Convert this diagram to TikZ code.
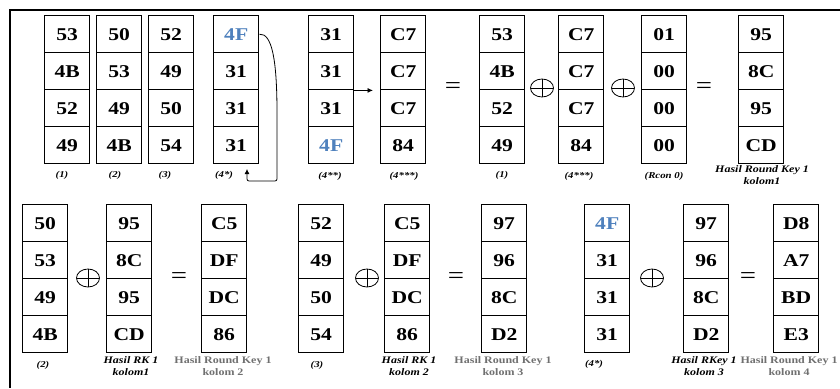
\documentclass[tikz,border=0pt]{standalone}
\usepackage{fontspec}
\setmainfont{Liberation Serif}[FakeStretch=1.2]
\usetikzlibrary{arrows.meta,shapes.geometric}
\definecolor{blueF}{HTML}{4F81BD}
\definecolor{graylbl}{HTML}{707070}
\tikzset{
 cell/.style={draw, line width=1.4pt, minimum width=45pt, minimum height=37pt, inner sep=0pt, anchor=north west, font=\fontsize{18}{20}\selectfont\bfseries},
 lbl/.style={font=\fontsize{9}{10}\selectfont\bfseries\itshape, inner sep=0pt},
 captxt/.style={font=\fontsize{10}{11.5}\selectfont\bfseries\itshape, align=center, inner sep=0pt},
 gcaptxt/.style={font=\fontsize{10}{11.5}\selectfont\bfseries, text=graylbl, align=center, inner sep=0pt},
 xorsym/.style={draw, ellipse, minimum width=23pt, minimum height=18pt, inner sep=0pt, line width=0.8pt,
   path picture={\draw[line width=0.8pt] (path picture bounding box.north) -- (path picture bounding box.south) (path picture bounding box.west) -- (path picture bounding box.east);}},
 eqsym/.style={font=\fontsize{24}{24}\selectfont, inner sep=0pt},
 frameline/.style={line width=1.2pt},
 conn/.style={line width=0.8pt},
}
\newcommand\kolom[4]{%
  \foreach \v [count=\i] in {#4} {
    \node[cell] (#1-\i) at (#2, {#3+37*(\i-1)}) {\v};
  }}
\begin{document}
\begin{tikzpicture}[x=1pt,y=-1pt]
\useasboundingbox (0,0) rectangle (840,388);
\draw[frameline] (840,10) -- (10,10) -- (10,388);
% top row
\kolom{a}{44}{15}{53,4B,52,49}
\kolom{b}{96}{15}{50,53,49,4B}
\kolom{c}{148}{15}{52,49,50,54}
\kolom{d}{213}{15}{\textcolor{blueF}{4F},31,31,31}
\kolom{e}{308}{15}{31,31,31,\textcolor{blueF}{4F}}
\kolom{f}{380}{15}{C7,C7,C7,84}
\kolom{g}{479}{15}{53,4B,52,49}
\kolom{h}{558}{15}{C7,C7,C7,84}
\kolom{i}{641}{15}{01,00,00,00}
\kolom{j}{738}{15}{95,8C,95,CD}
\node[lbl] (la) at (62,175) {(1)};
\node[lbl] (lb) at (115,175) {(2)};
\node[lbl] (lc) at (165,175) {(3)};
\node[lbl] (ld) at (224,175) {(4*)};
\node[lbl] (le) at (330,176) {(4**)};
\node[lbl] (lf) at (404,176) {(4***)};
\node[lbl] (lg) at (502,175) {(1)};
\node[lbl] (lh) at (579,176) {(4***)};
\node[lbl] (li) at (664,176) {(Rcon 0)};
\node[captxt] (lj) at (762,175) {Hasil Round Key 1\\kolom1};
\node[eqsym] (eq1) at (453,88) {=};
\node[xorsym] (x1) at (542,88) {};
\node[xorsym] (x2) at (623,88) {};
\node[eqsym] (eq2) at (704,88) {=};
% connectors
\coordinate (bend) at (277,115);
\coordinate (corner) at (277,181);
\coordinate (turn) at (247,181);
\coordinate (tip) at (247,169);
\draw[conn, rounded corners=2pt, -{Latex[length=5pt,width=5pt]}] (d-1.east) .. controls (272,33) and (277,60) .. (bend) -- (corner) -- (turn) -- (tip);
\draw[conn, shorten >=7pt, -{Latex[length=5.5pt,width=5pt]}] (e-2.south east) -- (f-2.south west);
% bottom row
\kolom{k}{22}{204}{50,53,49,4B}
\kolom{l}{106}{204}{95,8C,95,CD}
\kolom{m}{201}{204}{C5,DF,DC,86}
\kolom{n}{298}{204}{52,49,50,54}
\kolom{o}{384}{204}{C5,DF,DC,86}
\kolom{p}{481}{204}{97,96,8C,D2}
\kolom{q}{584}{204}{\textcolor{blueF}{4F},31,31,31}
\kolom{r}{683}{204}{97,96,8C,D2}
\kolom{s}{773}{204}{D8,A7,BD,E3}
\node[lbl] (lk) at (43,365) {(2)};
\node[captxt] (ll) at (131,366) {Hasil RK 1\\kolom1};
\node[gcaptxt] (lm) at (223,366) {Hasil Round Key 1\\kolom 2};
\node[lbl] (ln) at (317,365) {(3)};
\node[captxt] (lo) at (409,366) {Hasil RK 1\\kolom 2};
\node[gcaptxt] (lp) at (503,366) {Hasil Round Key 1\\kolom 3};
\node[lbl] (lq) at (594,364) {(4*)};
\node[captxt] (lr) at (704,366) {Hasil RKey 1\\kolom 3};
\node[gcaptxt] (ls) at (789,366) {Hasil Round Key 1\\kolom 4};
\node[xorsym] (x3) at (88,278) {};
\node[eqsym] (eq3) at (179,278) {=};
\node[xorsym] (x4) at (367,278) {};
\node[eqsym] (eq4) at (456,278) {=};
\node[xorsym] (x5) at (652,278) {};
\node[eqsym] (eq5) at (748,278) {=};
\end{tikzpicture}
\end{document}
